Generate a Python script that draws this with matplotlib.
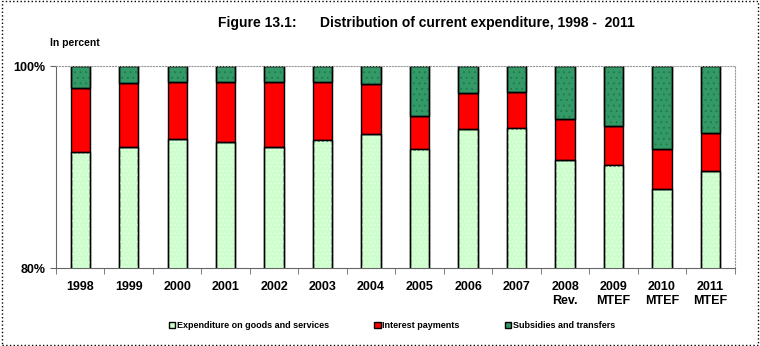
import matplotlib.pyplot as plt
import numpy as np
from matplotlib.patches import Rectangle

plt.rcParams['font.family'] = ['Liberation Sans', 'DejaVu Sans']
plt.rcParams['hatch.linewidth'] = 0.6

years = ['1998', '1999', '2000', '2001', '2002', '2003', '2004', '2005',
         '2006', '2007', '2008\nRev.', '2009\nMTEF', '2010\nMTEF', '2011\nMTEF']
goods = [91.5, 92.0, 92.8, 92.5, 92.0, 92.7, 93.3, 91.8, 93.8, 93.85, 90.7, 90.2, 87.8, 89.6]
interest = [6.3, 6.3, 5.65, 5.95, 6.4, 5.75, 4.9, 3.25, 3.5, 3.55, 4.1, 3.9, 4.0, 3.75]
subsidies = [100 - g - i for g, i in zip(goods, interest)]

x = np.arange(len(years))
w = 0.4
top = np.add(goods, interest)

fig = plt.figure(figsize=(7.6, 3.46), dpi=100)
ax = fig.add_axes([0.0737, 0.225, 0.893, 0.584])

b1 = ax.bar(x, goods, w, color='#CCFFCC', edgecolor='black', lw=1, label='Expenditure on goods and services')
b2 = ax.bar(x, interest, w, bottom=goods, color='#FF0000', edgecolor='black', lw=1, label='Interest payments')
b3 = ax.bar(x, subsidies, w, bottom=top, color='#339966', edgecolor='black', lw=1,
            label='Subsidies and transfers')
# dotted texture
ax.bar(x, goods, w, fill=False, hatch='....', edgecolor='#E8FFE8', lw=0)
ax.bar(x, subsidies, w, bottom=top, fill=False, hatch='...', edgecolor='#1E7A4C', lw=0)
ax.bar(x, goods, w, fill=False, edgecolor='black', lw=1)
ax.bar(x, subsidies, w, bottom=top, fill=False, edgecolor='black', lw=1)

ax.set_ylim(80, 100)
ax.set_xlim(-0.5, len(years) - 0.5)
ax.set_yticks([80, 100])
ax.set_yticklabels(['80%', '100%'], fontsize=9, fontweight='bold')
ax.set_xticks(x)
ax.set_xticklabels(years, fontsize=9, fontweight='bold', linespacing=1.3)
ax.tick_params(axis='x', length=0, pad=9)
ax.set_xticks(np.arange(-0.5, len(years), 1), minor=True)
ax.tick_params(axis='x', which='minor', length=4, direction='out', color='#666666')
ax.tick_params(axis='y', length=4, direction='out', color='#666666')

for s in ['top', 'right']:
    ax.spines[s].set_color('#999999')
    ax.spines[s].set_linestyle(':')
ax.spines['left'].set_color('#666666')
ax.spines['bottom'].set_color('#666666')

fig.text(0.287, 0.933, 'Figure 13.1:', fontsize=10, fontweight='bold', ha='left', va='center')
fig.text(0.421, 0.933, 'Distribution of current expenditure, 1998 -  2011', fontsize=10,
         fontweight='bold', ha='left', va='center')
fig.text(0.066, 0.876, 'In percent', fontsize=7.5, fontweight='bold', ha='left', va='center')

fig.legend(handles=[b1, b2, b3], loc='center', bbox_to_anchor=(0.516, 0.058), ncol=3, frameon=False,
           prop={'size': 6.5, 'weight': 'bold'}, handlelength=0.7, handleheight=0.7,
           handletextpad=0.2, columnspacing=5.0)

fig.add_artist(Rectangle((0.002, 0.003), 0.996, 0.994, transform=fig.transFigure, fill=False,
                         ls=':', lw=1, ec='black'))

fig.savefig('out.png', dpi=100)
